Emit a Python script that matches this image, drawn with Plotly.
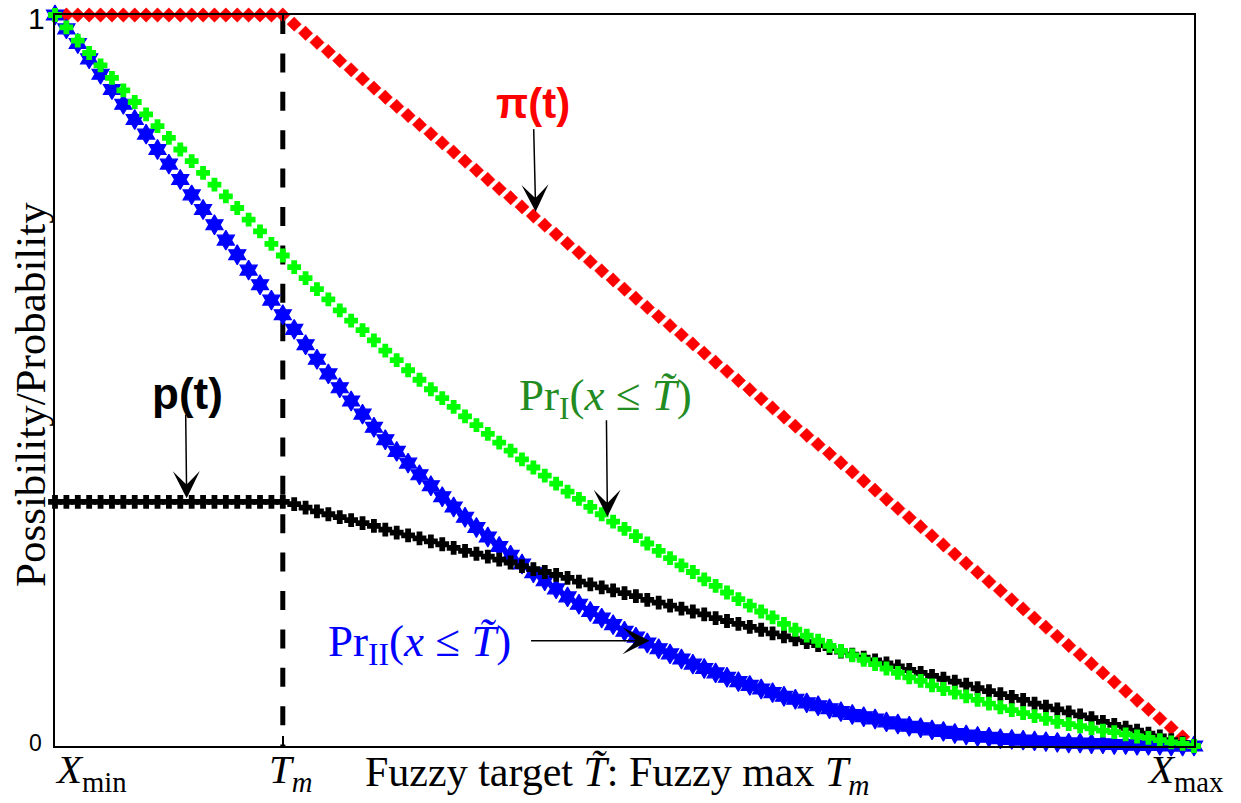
import plotly.graph_objects as go

# Normalised target axis: X_min -> 0, X_max -> 1, fuzzy max T_m at 0.2
TM = 0.2

t_grid = [
    0.00, 0.01, 0.02, 0.03, 0.04, 0.05, 0.06, 0.07, 0.08, 0.09,
    0.10, 0.11, 0.12, 0.13, 0.14, 0.15, 0.16, 0.17, 0.18, 0.19,
    0.20, 0.21, 0.22, 0.23, 0.24, 0.25, 0.26, 0.27, 0.28, 0.29,
    0.30, 0.31, 0.32, 0.33, 0.34, 0.35, 0.36, 0.37, 0.38, 0.39,
    0.40, 0.41, 0.42, 0.43, 0.44, 0.45, 0.46, 0.47, 0.48, 0.49,
    0.50, 0.51, 0.52, 0.53, 0.54, 0.55, 0.56, 0.57, 0.58, 0.59,
    0.60, 0.61, 0.62, 0.63, 0.64, 0.65, 0.66, 0.67, 0.68, 0.69,
    0.70, 0.71, 0.72, 0.73, 0.74, 0.75, 0.76, 0.77, 0.78, 0.79,
    0.80, 0.81, 0.82, 0.83, 0.84, 0.85, 0.86, 0.87, 0.88, 0.89,
    0.90, 0.91, 0.92, 0.93, 0.94, 0.95, 0.96, 0.97, 0.98, 0.99,
    1.00,
]

# possibility distribution pi(t)
pi_t = [
    1.0, 1.0, 1.0, 1.0, 1.0, 1.0, 1.0, 1.0, 1.0, 1.0,
    1.0, 1.0, 1.0, 1.0, 1.0, 1.0, 1.0, 1.0, 1.0, 1.0,
    1.0, 0.9875, 0.975, 0.9625, 0.95, 0.9375, 0.925, 0.9125, 0.9, 0.8875,
    0.875, 0.8625, 0.85, 0.8375, 0.825, 0.8125, 0.8, 0.7875, 0.775, 0.7625,
    0.75, 0.7375, 0.725, 0.7125, 0.7, 0.6875, 0.675, 0.6625, 0.65, 0.6375,
    0.625, 0.6125, 0.6, 0.5875, 0.575, 0.5625, 0.55, 0.5375, 0.525, 0.5125,
    0.5, 0.4875, 0.475, 0.4625, 0.45, 0.4375, 0.425, 0.4125, 0.4, 0.3875,
    0.375, 0.3625, 0.35, 0.3375, 0.325, 0.3125, 0.3, 0.2875, 0.275, 0.2625,
    0.25, 0.2375, 0.225, 0.2125, 0.2, 0.1875, 0.175, 0.1625, 0.15, 0.1375,
    0.125, 0.1125, 0.1, 0.0875, 0.075, 0.0625, 0.05, 0.0375, 0.025, 0.0125,
    0.0,
]

# probability distribution p(t)
p_t = [
    0.334, 0.334, 0.334, 0.334, 0.334, 0.334, 0.334, 0.334, 0.334, 0.334,
    0.334, 0.334, 0.334, 0.334, 0.334, 0.334, 0.334, 0.334, 0.334, 0.334,
    0.334, 0.331, 0.326, 0.321, 0.317, 0.313, 0.309, 0.305, 0.301, 0.296,
    0.292, 0.288, 0.284, 0.280, 0.276, 0.271, 0.267, 0.263, 0.259, 0.255,
    0.251, 0.246, 0.242, 0.238, 0.234, 0.230, 0.225, 0.221, 0.217, 0.213,
    0.209, 0.205, 0.200, 0.196, 0.192, 0.188, 0.184, 0.180, 0.175, 0.171,
    0.167, 0.163, 0.159, 0.154, 0.150, 0.146, 0.142, 0.138, 0.134, 0.129,
    0.125, 0.121, 0.117, 0.113, 0.109, 0.104, 0.100, 0.096, 0.092, 0.088,
    0.084, 0.079, 0.075, 0.071, 0.067, 0.063, 0.058, 0.054, 0.050, 0.046,
    0.042, 0.038, 0.033, 0.029, 0.025, 0.021, 0.017, 0.013, 0.008, 0.004,
    0.0,
]

# Pr_I(x <= T~)
pr_one = [
    1.000, 0.983, 0.965, 0.948, 0.931, 0.914, 0.897, 0.881, 0.864, 0.848,
    0.832, 0.816, 0.800, 0.784, 0.768, 0.752, 0.736, 0.720, 0.704, 0.687,
    0.671, 0.655, 0.640, 0.625, 0.611, 0.596, 0.582, 0.569, 0.555, 0.541,
    0.528, 0.514, 0.501, 0.488, 0.476, 0.464, 0.451, 0.439, 0.427, 0.415,
    0.404, 0.392, 0.381, 0.370, 0.359, 0.348, 0.338, 0.327, 0.317, 0.307,
    0.297, 0.287, 0.277, 0.267, 0.257, 0.247, 0.238, 0.228, 0.219, 0.210,
    0.201, 0.192, 0.184, 0.176, 0.167, 0.159, 0.151, 0.144, 0.137, 0.130,
    0.124, 0.118, 0.112, 0.106, 0.100, 0.094, 0.089, 0.083, 0.078, 0.073,
    0.068, 0.063, 0.058, 0.053, 0.049, 0.045, 0.041, 0.037, 0.033, 0.030,
    0.027, 0.024, 0.021, 0.019, 0.016, 0.013, 0.011, 0.008, 0.005, 0.003,
    0.0,
]

# Pr_II(x <= T~)
pr_two = [
    1.000, 0.981, 0.961, 0.940, 0.919, 0.898, 0.878, 0.857, 0.837, 0.816,
    0.796, 0.775, 0.754, 0.734, 0.713, 0.692, 0.672, 0.651, 0.631, 0.610,
    0.590, 0.570, 0.549, 0.529, 0.509, 0.490, 0.472, 0.454, 0.436, 0.419,
    0.403, 0.387, 0.371, 0.356, 0.341, 0.327, 0.313, 0.299, 0.286, 0.273,
    0.261, 0.249, 0.237, 0.226, 0.215, 0.204, 0.194, 0.184, 0.175, 0.166,
    0.157, 0.149, 0.141, 0.133, 0.126, 0.119, 0.112, 0.106, 0.100, 0.094,
    0.088, 0.083, 0.078, 0.073, 0.068, 0.064, 0.059, 0.055, 0.051, 0.047,
    0.043, 0.040, 0.037, 0.033, 0.030, 0.027, 0.025, 0.022, 0.020, 0.017,
    0.015, 0.013, 0.012, 0.010, 0.009, 0.008, 0.007, 0.006, 0.005, 0.004,
    0.004, 0.003, 0.003, 0.002, 0.002, 0.001, 0.001, 0.001, 0.000, 0.000,
    0.0,
]

SERIF = "Liberation Serif"
SANS = "Liberation Sans"

fig = go.Figure()

# vertical dashed marker at T_m
fig.add_trace(go.Scatter(
    x=[TM, TM], y=[1, 0], mode="lines",
    line=dict(color="black", width=5, dash="19px,19.4px"),
    hoverinfo="skip", showlegend=False, cliponaxis=False,
))


def marker_series(y, symbol, size, color, edge):
    return go.Scatter(
        x=t_grid, y=y, mode="markers",
        marker=dict(symbol=symbol, size=size, color=color,
                    line=dict(width=edge, color=color)),
        hoverinfo="skip", showlegend=False, cliponaxis=False,
    )


fig.add_trace(marker_series(pi_t, "diamond", 11, "#ff0000", 0.5))
fig.add_trace(marker_series(pr_two, "hexagram", 15, "#0000ff", 1.2))
fig.add_trace(marker_series(p_t, "cross", 10, "#000000", 1.8))
fig.add_trace(marker_series(pr_one, "cross", 10, "#00ff00", 1.8))

axis_common = dict(
    range=[0, 1], showgrid=False, zeroline=False, automargin=False,
    showline=True, linecolor="black", linewidth=1.5, mirror="ticks",
    ticks="inside", ticklen=10, tickwidth=1.5, tickcolor="black",
    showticklabels=False,
)

fig.update_layout(
    width=1241, height=803,
    margin=dict(l=55, r=47, t=15, b=57),
    plot_bgcolor="white", paper_bgcolor="white",
    xaxis=dict(tickvals=[0, TM, 1], **axis_common),
    yaxis=dict(tickvals=[0, 1], **axis_common),
)


def label(x, y, text, size, color="black", family=SERIF, angle=0, xanchor="center"):
    # positions are fractions of the plotting area (which spans the unit axes)
    fig.add_annotation(
        x=x, y=y, xref="paper", yref="paper", text=text, showarrow=False,
        xanchor=xanchor, yanchor="middle", textangle=angle,
        font=dict(family=family, size=size, color=color),
    )


def arrow(x, y, ax, ay):
    fig.add_annotation(
        x=x, y=y, xref="x", yref="y", ax=ax, ay=ay, text="",
        showarrow=True, arrowhead=3, arrowsize=3, arrowwidth=1.5,
        arrowcolor="black",
    )


# y tick labels
label(-0.016, 0.995, "1", 30, family=SANS)
label(-0.017, 0.004, "0", 23, family=SANS)

# x tick labels
label(-0.002, -0.036, "<i>X</i><sub>min</sub>", 41, xanchor="left")
label(0.2076, -0.036, "<i>T</i><sub><i>m</i></sub>", 41)
label(0.992, -0.036, "<i>X</i><sub>max</sub>", 41)

# axis titles
label(0.494, -0.040, "Fuzzy target <i>T\u0303</i>: Fuzzy max <i>T</i><sub><i>m</i></sub>", 42)
label(-0.022, 0.4815, "Possibility/Probability", 43, angle=-90)

# curve labels
label(0.4197, 0.8796, "<b>\u03c0(t)</b>", 42, color="#ff0000", family=SANS)
label(0.1159, 0.4829, "<b>p(t)</b>", 44, family=SANS)
label(0.4829, 0.476, "Pr<sub>I</sub>(<i>x</i> \u2264 <i>T\u0303</i>)", 45, color="#228B22")
label(0.3196, 0.1395, "Pr<sub>II</sub>(<i>x</i> \u2264 <i>T\u0303</i>)", 45, color="#0000ff")

# arrows from the labels to the curves
arrow(0.422, 0.731, -2, -84)
arrow(0.1156, 0.339, -1, -85)
arrow(0.485, 0.3137, -1, -98)
arrow(0.522, 0.144, -120, 0)

fig.write_html("out.html", config={"displayModeBar": False})
